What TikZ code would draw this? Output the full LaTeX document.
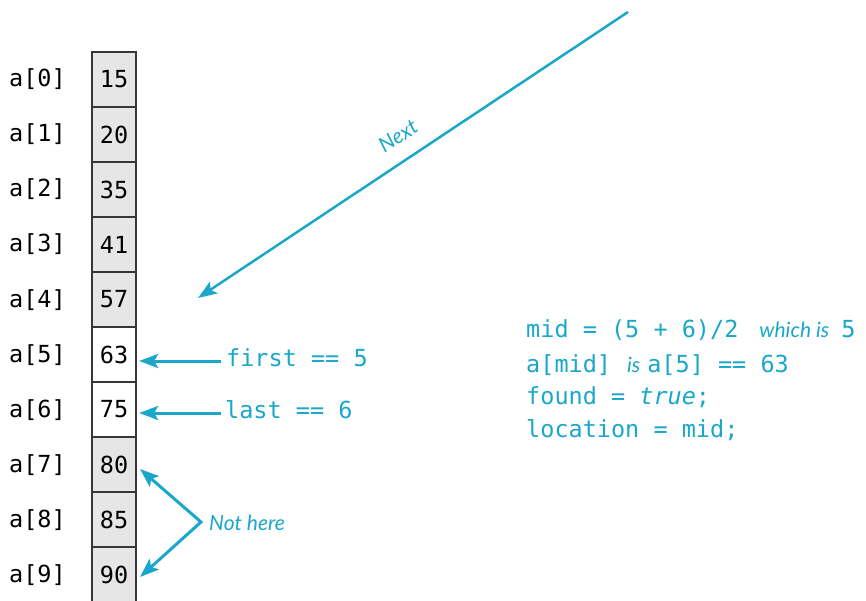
\documentclass[tikz,border=0pt]{standalone}
\usepackage{fontspec}
\setmainfont{Lato}
\newfontfamily\codefont{DejaVu Sans Mono}
\newfontfamily\notefont{Lato}
\usetikzlibrary{arrows.meta,calc}
\definecolor{cy}{RGB}{26,167,201}
\definecolor{cellgray}{RGB}{230,230,230}
\definecolor{edgegray}{RGB}{55,55,55}
\newcommand{\codesize}{\codefont\fontsize{23.5}{23.5}\selectfont}
\newcommand{\notesize}{\notefont\itshape\fontsize{21}{21}\selectfont}
\tikzset{
  cell/.style={draw=edgegray, line width=1.3pt, fill=cellgray, minimum width=44pt,
    minimum height=55pt, inner sep=0pt, font=\codesize, text=black},
  hot/.style={cell, fill=white},
  idx/.style={anchor=base west, inner sep=0pt, font=\codesize, text=black},
  code/.style={anchor=base west, inner sep=0pt, font=\codesize, text=cy},
  note/.style={inner sep=0pt, font=\notesize, text=cy},
  arr/.style={draw=cy, line width=3pt, line join=miter,
    -{Stealth[length=19pt,width=14pt,inset=4pt]}},
  dblarr/.style={draw=cy, line width=3pt, line join=miter,
    {Stealth[length=19pt,width=14pt,inset=4pt]}-{Stealth[length=19pt,width=14pt,inset=4pt]}},
}
\begin{document}
\begin{tikzpicture}[x=1pt,y=-1pt]
\useasboundingbox (0,0) rectangle (866,601);
% array cells
\foreach \i/\v in {0/15,1/20,2/35,3/41,4/57,7/80,8/85,9/90}
  \node[cell] (c\i) at (114,{79.5+55*\i}) {\v};
\node[hot] (c5) at (114,354.5) {63};
\node[hot] (c6) at (114,409.5) {75};
% index labels
\foreach \i in {0,...,9}
  \node[idx] (l\i) at (9,{87+55*\i}) {a[\i]};
% first / last
\node[code] (first) at (226,366) {first == 5};
\node[code] (last) at (225,418) {last == 6};
\coordinate (fa) at (221,361);
\coordinate (la) at (221,413);
\draw[arr, shorten >=2.5pt] (fa) -- (fa -| c5.east);
\draw[arr, shorten >=2.5pt] (la) -- (la -| c6.east);
% not here
\coordinate (nv) at (201,522);
\coordinate (t7) at (140,469);
\coordinate (t9) at (140,577);
\draw[dblarr] (t7) -- (nv) -- (t9);
\node[note, anchor=west] (nh) at (209,523) {Not here};
% next
\coordinate (ns) at (628,12);
\coordinate (ne) at (198,298);
\draw[arr, line width=2.5pt] (ns) -- (ne);
\node[note, rotate=33.6] (nx) at (398,136) {Next};
% right block
\node[code] (r1) at (526,337) {mid = (5 + 6)/2\hspace{21pt}{\notesize which is}\hspace{12pt}5};
\node[code] (r2) at (526,372) {a[mid]\hspace{16pt}{\notesize is}\hspace{7pt}a[5] == 63};
\node[code] (r3) at (526,404) {found = {\itshape true};};
\node[code] (r4) at (526,437) {location = mid;};
\end{tikzpicture}
\end{document}
